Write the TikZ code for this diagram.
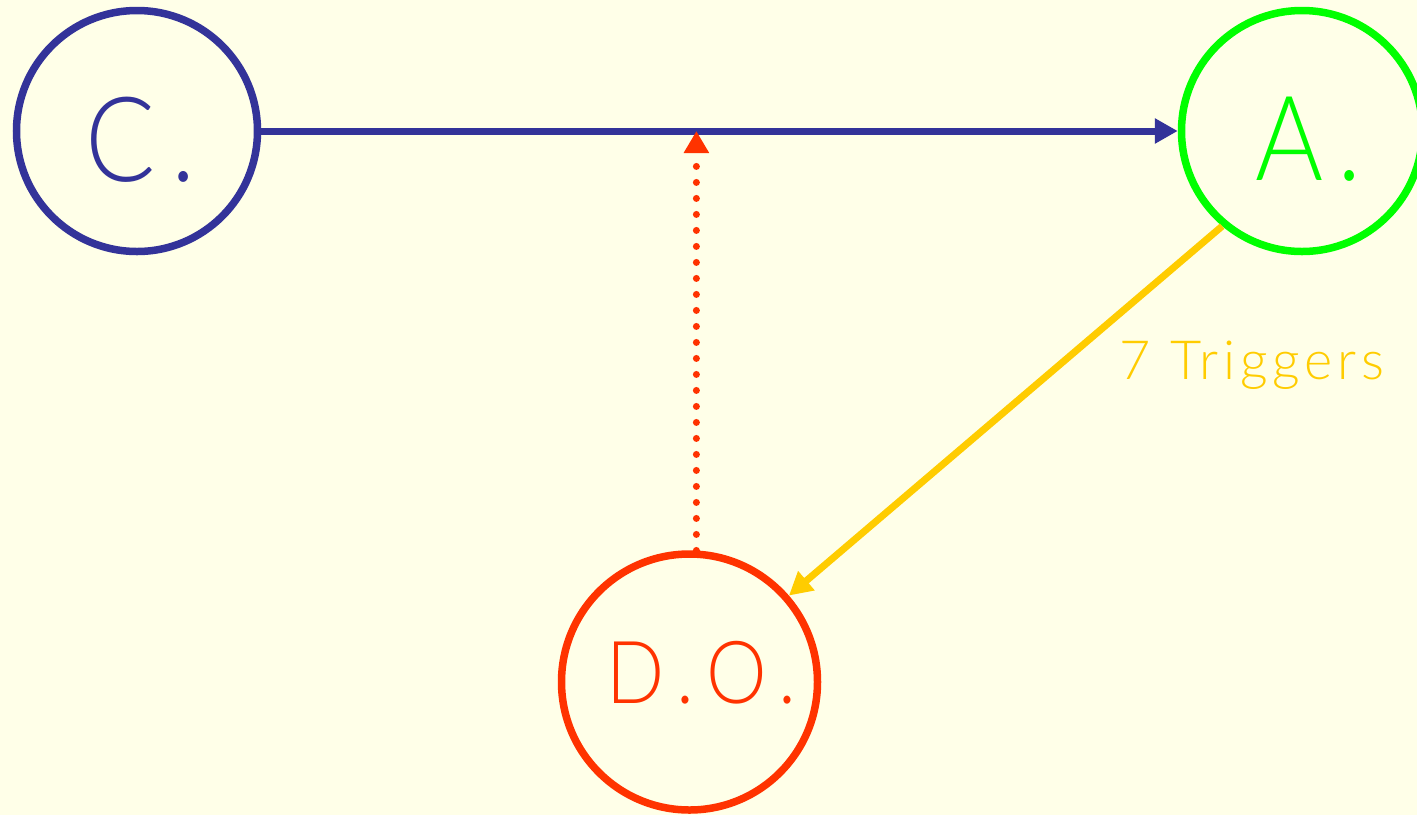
\documentclass[tikz,border=0pt]{standalone}
\usepackage{fontspec}
\IfFontExistsTF{Lato Light}{\setmainfont{Lato Light}}{\setmainfont{Lato}}
\usetikzlibrary{arrows.meta}
\definecolor{bg}{HTML}{FFFFE8}
\definecolor{cblue}{HTML}{333399}
\definecolor{cgreen}{HTML}{00FF00}
\definecolor{cred}{HTML}{FF3300}
\definecolor{cyellow}{HTML}{FFCC00}
\tikzset{
  circ/.style={circle, draw=#1, line width=7.5pt, inner sep=0pt},
  big/.style={font=\fontsize{118}{120}\selectfont\addfontfeature{FakeStretch=0.88}, inner sep=0pt},
  conn/.style={line width=7pt, -{Triangle[length=23pt,width=24pt]}},
}
\begin{document}
\begin{tikzpicture}[x=1pt,y=-1pt]
\useasboundingbox[fill=bg] (0,0) rectangle (1417,815);
\node[circ=cblue, minimum size=241pt] (C) at (137,131) {};
\node[circ=cgreen, minimum size=241pt] (A) at (1302,131) {};
\node[circ=cred, minimum size=256pt] (DO) at (689.5,682) {};
\node[big, text=cblue] (Ct) at (140.5,139.5) {C\kern16pt.};
\node[big, text=cgreen] (At) at (1309,139) {A\kern14pt.};
\node[font=\fontsize{87}{90}\selectfont\addfontfeature{FakeStretch=0.88}, inner sep=0pt, text=cred] (DOt) at (701.5,672.5) {D\kern12pt.\kern12pt O\kern12pt.};
\draw[conn, cblue] (C.east) -- (A.west);
\draw[conn, cyellow] (A.230) -- (DO.41);
\draw[cred, line width=7pt, line cap=round, dash pattern=on 0pt off 16pt,
  -{Triangle[length=22pt,width=24pt,line cap=butt]}] (DO.87) -- (DO.87 |- C.east);
\node[font=\fontsize{54}{56}\selectfont\addfontfeature{LetterSpace=9}, text=cyellow, anchor=base west, inner sep=0pt] (lab) at (1119,379) {7 Triggers};
\end{tikzpicture}
\end{document}
